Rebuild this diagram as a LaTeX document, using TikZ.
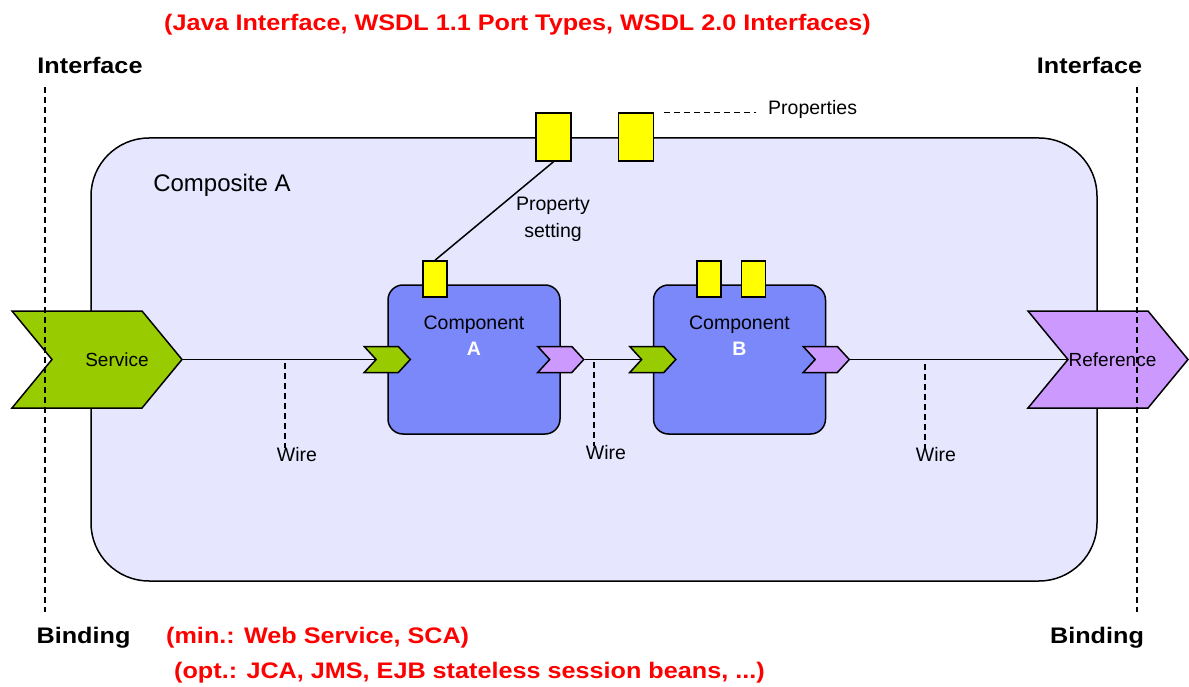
\documentclass[tikz,border=0pt]{standalone}
\usepackage{fontspec}
\setmainfont{Liberation Sans}
\newfontfamily\widesans[FakeStretch=1.12]{Liberation Sans}
\usepackage{xcolor}
\definecolor{scagreen}{RGB}{153,204,0}
\definecolor{scapurple}{RGB}{204,153,255}
\definecolor{scablue}{RGB}{122,136,250}
\definecolor{scalavender}{RGB}{230,230,255}
\definecolor{scayellow}{RGB}{255,255,0}
\usetikzlibrary{shapes.symbols,positioning,backgrounds}

\begin{document}
\begin{tikzpicture}[
    x=1pt, y=-1pt,
    composite/.style={rectangle, draw=black, line width=1.5pt, fill=scalavender, rounded corners=58pt, minimum width=1006pt, minimum height=443pt},
    component/.style={rectangle, draw=black, line width=1.5pt, fill=scablue, rounded corners=15pt, minimum width=172pt, minimum height=149pt},
    prop/.style={rectangle, draw=black, line width=1.5pt, fill=scayellow, inner sep=0pt, minimum width=24pt, minimum height=36pt},
    bigprop/.style={prop, minimum width=35pt, minimum height=48pt},
    chevron/.style={signal, signal from=west, signal to=east, signal pointer angle=101, draw=black, line width=1.5pt, minimum height=97pt, inner sep=0pt, font=\fontsize{19}{23}\selectfont},
    port/.style={signal, signal from=west, signal to=east, signal pointer angle=95, draw=black, line width=1.5pt, minimum width=46pt, minimum height=26pt, inner sep=0pt},
    txt/.style={inner sep=0pt, font=\fontsize{19.5}{26.5}\selectfont, align=center},
    heading/.style={inner sep=0pt, font=\widesans\bfseries\fontsize{22.5}{26}\selectfont},
    note/.style={heading, text=red},
    wire/.style={draw=black, line width=1.5pt},
    guide/.style={draw=black, line width=1.3pt, dash pattern=on 6pt off 4pt}
]
\useasboundingbox (0,0) rectangle (1189,687);

% Composite
\begin{scope}[on background layer]
\node[composite] (comp) at (594,359.5) {};
\end{scope}
\node[txt, font=\fontsize{24}{28}\selectfont] (compname) at (222,185) {Composite A};

% Components
\node[component] (compA) at (474,359.5) {};
\node[component, right=92pt of compA] (compB) {};
\node[txt, below=31pt of compA.north] (compAtxt) {Component\\\textcolor{white}{\textbf{A}}};
\node[txt, below=31pt of compB.north] (compBtxt) {Component\\\textcolor{white}{\textbf{B}}};

% Properties
\node[bigprop] (propL) at (553.5,137) {};
\node[bigprop, right=46pt of propL] (propR) {};
\node[prop] (propA) at (435,279) {};
\node[prop] (propB1) at (709,279) {};
\node[prop] (propB2) at (753.5,279) {};
\node[txt, anchor=west] (proptxt) at (768,109) {Properties};
\node[txt] (settxt) at (553,219.5) {Property\\setting};

% Services, references and their ports
\node[chevron, fill=scagreen, minimum width=170pt] (svc) at (97,359.5) {\makebox[0pt]{\hspace*{40pt}Service}};
\node[chevron, fill=scapurple, minimum width=160pt] (refc) at (1108,359.5) {\makebox[0pt]{\hspace*{9pt}Reference}};
\node[port, fill=scagreen] (pAin) at (compA.west) {};
\node[port, fill=scapurple] (pAout) at (compA.east) {};
\node[port, fill=scagreen] (pBin) at (compB.west) {};
\node[port, fill=scapurple] (pBout) at (compB.east) {};

% Wires
\begin{scope}[on background layer]
\draw[wire] (svc.east) -- (pAin.center);
\draw[wire] (pAout.east) -- (pBin.center);
\draw[wire] (pBout.east) -- (refc.center);
\end{scope}
\node[txt] (wire1) at (297,455) {Wire};
\node[txt] (wire2) at (606,453) {Wire};
\node[txt] (wire3) at (936,455) {Wire};
\draw[guide] (285,363) -- (wire1.north -| 285,0);
\draw[guide] (594,362) -- (wire2.north -| 594,0);
\draw[guide] (925,364) -- (wire3.north -| 925,0);

% Property setting and properties
\draw[line width=1.5pt] (propL.south) -- (propA.north);
\draw[guide] ([xshift=10pt]propR.north east) -- ([xshift=-12pt]proptxt.west |- propR.north east);

% Interface and binding
\node[heading] (ifL) at (90,65) {Interface};
\node[heading] (ifR) at (1089.5,65) {Interface};
\node[heading] (bdL) at (83.5,638) {Binding};
\node[heading] (bdR) at (1097,638) {Binding};
\draw[guide] (45,87) -- (45,612);
\draw[guide] (1137,87) -- (1137,612);

% Notes
\node[note] (ifnote) at (517.5,25) {(Java Interface, WSDL 1.1 Port Types, WSDL 2.0 Interfaces)};
\node[note, anchor=west] (minnote) at (166,638) {(min.: Web Service, SCA)};
\node[note, anchor=west] (optnote) at (174,673) {(opt.: JCA, JMS, EJB stateless session beans, ...)};
\end{tikzpicture}
\end{document}
